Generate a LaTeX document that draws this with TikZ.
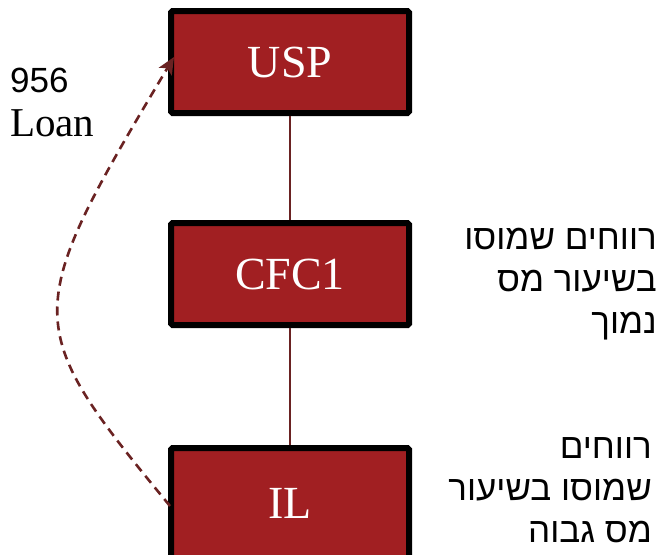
\documentclass[tikz,border=0pt]{standalone}
\usepackage{fontspec}
\setmainfont{Liberation Serif}
\newfontfamily\hebfont[Script=Hebrew]{Liberation Sans}
\newfontfamily\arialfont{Liberation Sans}
\TeXXeTstate=1
\usetikzlibrary{arrows.meta}
\definecolor{boxred}{HTML}{A11F22}
\definecolor{linkred}{HTML}{6A2222}
\tikzset{
  entity/.style={draw=black, line width=6pt, fill=boxred, rounded corners=1.5pt,
    minimum width=238pt, minimum height=102pt, inner sep=0pt,
    text=white, font=\fontsize{46}{46}\selectfont},
  owns/.style={draw=linkred, line width=1.5pt},
  loan/.style={draw=linkred, line width=2.6pt, dash pattern=on 9pt off 6pt,
    -{Stealth[length=17pt,width=15pt,inset=4pt]}},
  heblabel/.style={align=right, inner sep=0pt, font=\hebfont\fontsize{35}{42}\selectfont}
}
\begin{document}
\begin{tikzpicture}[x=1pt,y=-1pt]
  \useasboundingbox (0,0) rectangle (661,554);

  % ownership chain
  \node[entity] (usp) at (290,62) {USP};
  \node[entity] (cfc) at (290,274) {CFC1};
  \node[entity, minimum height=110pt] (il) at (290,503) {\raisebox{-3pt}{IL}};

  \draw[owns] (usp.south) -- (cfc.north);
  \draw[owns] (cfc.south) -- (il.north);

  % intercompany loan back to the parent
  \coordinate (loanstart) at (170,506);
  \coordinate (loanend) at (174,57);
  \draw[loan] (loanstart) .. controls (20,324) and (20,315) .. (loanend);

  \node[anchor=base west, inner sep=0pt, font=\arialfont\fontsize{35}{35}\selectfont] (amt) at (10,92) {956};
  \node[anchor=base west, inner sep=0pt, font=\fontsize{41}{41}\selectfont] (loanlbl) at (10,136) {Loan};

  % tax-rate notes
  \node[heblabel, anchor=north east] (lowtax) at (657,228)
    {\beginR רווחים שמוסו\endR\\ \beginR בשיעור מס\endR\\ \beginR נמוך\endR};
  \node[heblabel, anchor=north east] (hightax) at (652,437)
    {\beginR רווחים\endR\\ \beginR שמוסו בשיעור\endR\\ \beginR מס גבוה\endR};
\end{tikzpicture}
\end{document}
